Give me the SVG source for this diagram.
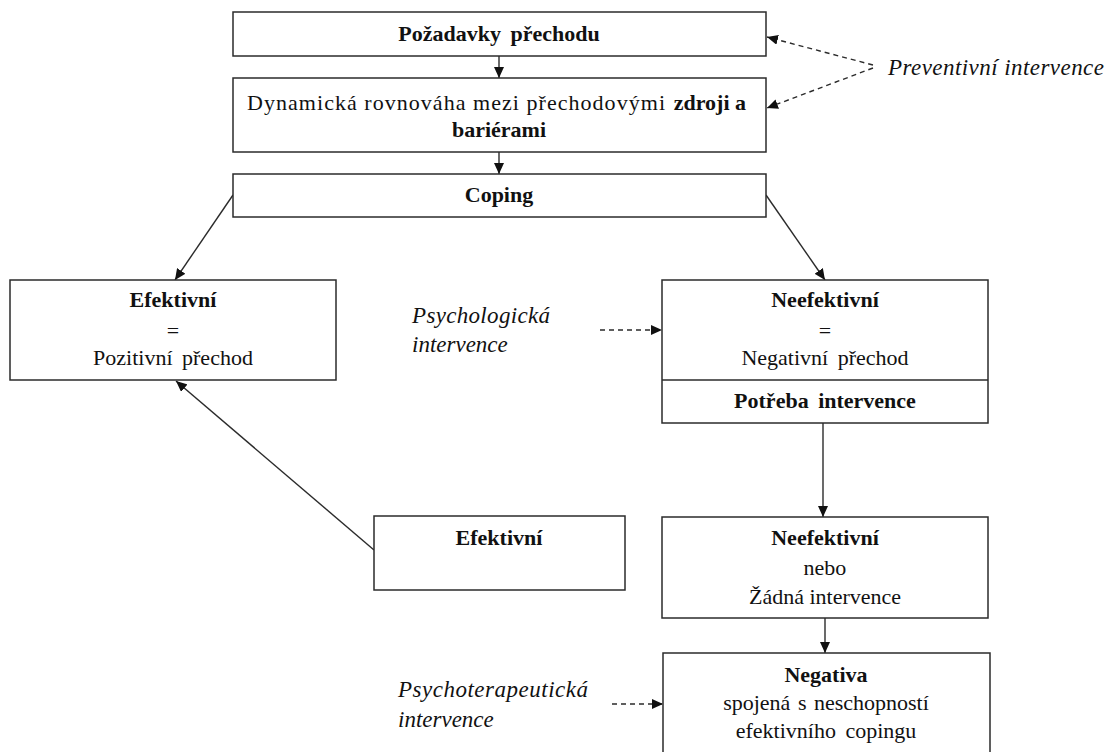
<svg xmlns="http://www.w3.org/2000/svg" width="1114" height="752" viewBox="0 0 1114 752">
  <style>
    .box { fill: #ffffff; stroke: #2b2b2b; stroke-width: 1.5; }
    .t { font-family: "Liberation Serif", "Times New Roman", serif; font-size: 22px; fill: #111111; text-anchor: middle; }
    .b { font-weight: bold; }
    .it { font-family: "Liberation Serif", "Times New Roman", serif; font-style: italic; font-size: 23px; fill: #111111; }
    .link { stroke: #2b2b2b; stroke-width: 1.4; fill: none; marker-end: url(#arrow); }
    .dash { stroke-dasharray: 5 4; }
  </style>
  <defs>
    <marker id="arrow" markerUnits="userSpaceOnUse" markerWidth="12" markerHeight="10" refX="11" refY="5" orient="auto">
      <path d="M0,0 L11,5 L0,10 z" fill="#111111"/>
    </marker>
  </defs>
  <rect width="1114" height="752" fill="#ffffff"/>

  <g id="connectors">
    <line class="link" x1="499" y1="56" x2="499" y2="78"/>
    <line class="link" x1="499" y1="152" x2="499" y2="174"/>
    <line class="link" x1="233" y1="195" x2="175" y2="280"/>
    <line class="link" x1="766" y1="195" x2="825" y2="280"/>
    <line class="link" x1="374" y1="550" x2="176" y2="381"/>
    <line class="link" x1="823" y1="423" x2="823" y2="517"/>
    <line class="link" x1="825" y1="618" x2="825" y2="653"/>
    <line class="link dash" x1="873" y1="65" x2="767" y2="37"/>
    <line class="link dash" x1="873" y1="68" x2="767" y2="108"/>
    <line class="link dash" x1="600" y1="330" x2="662" y2="330"/>
    <line class="link dash" x1="612" y1="704" x2="663" y2="704"/>
  </g>

  <g id="pozadavky">
    <rect class="box" x="233" y="12" width="533" height="44"/>
    <text class="t b" x="499" y="41" word-spacing="4">Požadavky přechodu</text>
  </g>

  <g id="rovnovaha">
    <rect class="box" x="233" y="78" width="533" height="74"/>
    <text class="t" x="247" y="110" style="text-anchor:start" textLength="418" lengthAdjust="spacing">Dynamická rovnováha mezi přechodovými</text>
    <text class="t b" x="746" y="110" style="text-anchor:end">zdroji a</text>
    <text class="t b" x="499" y="137">bariérami</text>
  </g>

  <g id="coping">
    <rect class="box" x="233" y="174" width="533" height="43"/>
    <text class="t b" x="499" y="202">Coping</text>
  </g>

  <g id="preventivni">
    <text class="it" x="888" y="75" textLength="216" lengthAdjust="spacing">Preventivní intervence</text>
  </g>

  <g id="efektivni-pozitivni">
    <rect class="box" x="10" y="280" width="326" height="100"/>
    <text class="t b" x="173" y="307">Efektivní</text>
    <text class="t" x="173" y="338">=</text>
    <text class="t" x="173" y="365" word-spacing="4">Pozitivní přechod</text>
  </g>

  <g id="psychologicka">
    <text class="it" x="412" y="323" textLength="138" lengthAdjust="spacing">Psychologická</text>
    <text class="it" x="412" y="352">intervence</text>
  </g>

  <g id="neefektivni-negativni">
    <rect class="box" x="662" y="280" width="326" height="143"/>
    <line x1="662" y1="380" x2="988" y2="380" stroke="#2b2b2b" stroke-width="1.5"/>
    <text class="t b" x="825" y="307">Neefektivní</text>
    <text class="t" x="825" y="338">=</text>
    <text class="t" x="825" y="365" word-spacing="4">Negativní přechod</text>
    <text class="t b" x="825" y="408" word-spacing="4">Potřeba intervence</text>
  </g>

  <g id="efektivni">
    <rect class="box" x="374" y="516" width="251" height="74"/>
    <text class="t b" x="499" y="545">Efektivní</text>
  </g>

  <g id="neefektivni-nebo">
    <rect class="box" x="662" y="517" width="326" height="101"/>
    <text class="t b" x="825" y="545">Neefektivní</text>
    <text class="t" x="825" y="575">nebo</text>
    <text class="t" x="825" y="604">Žádná intervence</text>
  </g>

  <g id="psychoterapeuticka">
    <text class="it" x="398" y="697" textLength="190" lengthAdjust="spacing">Psychoterapeutická</text>
    <text class="it" x="398" y="727">intervence</text>
  </g>

  <g id="negativa">
    <rect class="box" x="663" y="653" width="327" height="110"/>
    <text class="t b" x="826" y="682">Negativa</text>
    <text class="t" x="826" y="710" word-spacing="2">spojená s neschopností</text>
    <text class="t" x="826" y="738" word-spacing="4">efektivního copingu</text>
  </g>
</svg>
